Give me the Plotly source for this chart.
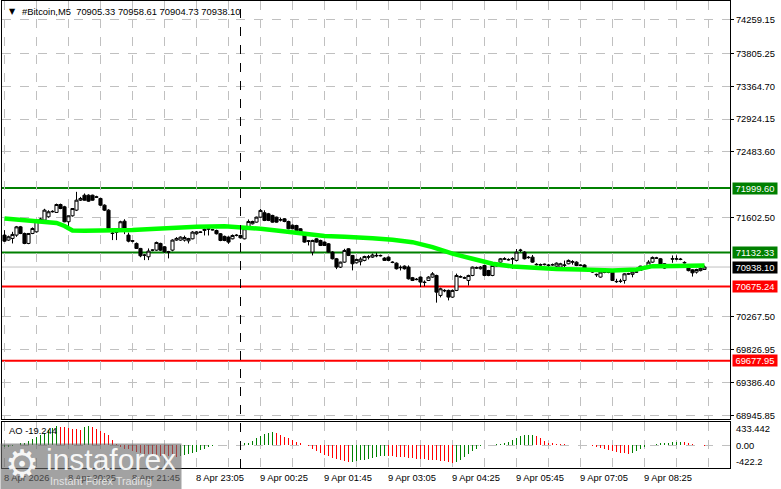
import pandas as pd
import plotly.graph_objects as go

# ---------------- data ----------------
start_time = "2026-04-08 19:05"
n_bars = 176
times = pd.date_range(start_time, periods=n_bars, freq="5min")

opens = [71367, 71300, 71322, 71367, 71478, 71389, 71255, 71389, 71411, 71568,
         71568, 71613, 71680, 71671, 71778, 71747, 71546, 71626, 71702, 71836,
         71903, 71903, 71903, 71881, 71859, 71769, 71702, 71389, 71411, 71456,
         71554, 71367, 71291, 71255, 71188, 71098, 71076, 71165, 71165, 71255,
         71210, 71143, 71165, 71300, 71300, 71300, 71290, 71317, 71385, 71405,
         71430, 71452, 71440, 71429, 71385, 71350, 71340, 71317, 71362, 71362,
         71317, 71452, 71519, 71541, 71608, 71667, 71653, 71631, 71608, 71575,
         71586, 71550, 71500, 71496, 71452, 71385, 71290, 71139, 71317, 71295,
         71273, 71250, 71139, 71049, 70937, 71004, 71183, 71094, 70995, 71010,
         71027, 71070, 71071, 71095, 71094, 71058, 71071, 71004, 70990, 70935,
         70950, 70937, 70795, 70775, 70803, 70736, 70758, 70803, 70825, 70557,
         70625, 70624, 70534, 70624, 70810, 70795, 70758, 70825, 70930, 70915,
         70959, 70892, 70825, 70960, 71004, 71050, 71040, 71045, 71027, 71160,
         71138, 71070, 71071, 70975, 70970, 70970, 70965, 70970, 70950, 70937,
         70960, 70982, 71010, 71004, 70965, 70965, 70915, 70915, 70840, 70803,
         70870, 70870, 70870, 70745, 70745, 70758, 70848, 70840, 70870, 70892,
         70940, 70937, 71004, 71060, 71049, 70982, 70960, 71050, 71045, 71045,
         71000, 70930, 70900, 70870, 70890, 70905.33]
highs = [71434, 71360, 71411, 71490, 71490, 71400, 71395, 71470, 71580, 71600,
         71720, 71700, 71700, 71790, 71790, 71760, 71630, 71730, 71948, 71880,
         71926, 71915, 71910, 71895, 71870, 71780, 71715, 71456, 71420, 71560,
         71580, 71400, 71300, 71268, 71195, 71110, 71188, 71175, 71280, 71265,
         71220, 71155, 71310, 71340, 71350, 71360, 71330, 71420, 71420, 71415,
         71460, 71460, 71450, 71440, 71395, 71360, 71350, 71375, 71380, 71375,
         71460, 71577, 71560, 71615, 71720, 71700, 71665, 71640, 71615, 71600,
         71595, 71560, 71510, 71505, 71460, 71395, 71300, 71305, 71325, 71305,
         71280, 71260, 71150, 71060, 71010, 71183, 71190, 71100, 71050, 71070,
         71090, 71100, 71120, 71130, 71105, 71070, 71080, 71015, 71000, 70960,
         70960, 70960, 70805, 70790, 70810, 70758, 70815, 70870, 70835, 70660,
         70640, 70635, 70635, 70850, 70825, 70810, 70835, 70945, 70945, 70950,
         70970, 70900, 70970, 70975, 71060, 71070, 71055, 71070, 71180, 71183,
         71150, 71085, 71100, 70990, 70985, 70985, 70980, 70985, 71000, 70995,
         71025, 71040, 71030, 71015, 70975, 70975, 70925, 70925, 70850, 70880,
         70880, 70880, 70880, 70780, 70780, 70855, 70860, 70890, 70885, 70955,
         70955, 71030, 71080, 71075, 71060, 70990, 70975, 71094, 71094, 71060,
         71015, 70945, 70910, 70915, 70935, 70958.61]
lows = [71277, 71290, 71255, 71344, 71380, 71245, 71245, 71380, 71400, 71550,
        71555, 71600, 71670, 71665, 71715, 71540, 71456, 71615, 71690, 71825,
        71830, 71815, 71830, 71865, 71760, 71690, 71445, 71300, 71300, 71445,
        71380, 71270, 71270, 71180, 71070, 71031, 71031, 71150, 71155, 71155,
        71130, 71054, 71150, 71290, 71290, 71280, 71255, 71310, 71370, 71395,
        71362, 71362, 71430, 71375, 71285, 71285, 71250, 71310, 71350, 71320,
        71310, 71445, 71510, 71535, 71600, 71555, 71555, 71535, 71535, 71550,
        71540, 71445, 71445, 71420, 71375, 71265, 71228, 71094, 71265, 71220,
        71220, 71130, 71040, 70910, 70925, 70995, 71085, 70893, 70985, 70960,
        71015, 71040, 71060, 71070, 71080, 71020, 71020, 70990, 70905, 70892,
        70905, 70770, 70750, 70760, 70669, 70680, 70750, 70795, 70460, 70530,
        70600, 70490, 70525, 70615, 70795, 70780, 70690, 70815, 70915, 70905,
        70815, 70815, 70815, 70945, 70995, 71035, 71025, 70915, 71015, 71138,
        71040, 71050, 70995, 70960, 70955, 70960, 70900, 70955, 70940, 70930,
        70890, 70975, 70970, 70950, 70950, 70905, 70900, 70860, 70805, 70795,
        70855, 70855, 70750, 70725, 70725, 70715, 70835, 70800, 70860, 70885,
        70930, 70930, 70995, 71050, 70950, 70915, 70950, 70995, 71030, 71030,
        70985, 70880, 70810, 70850, 70880, 70904.73]
closes = [71286, 71344, 71376, 71478, 71389, 71255, 71389, 71456, 71568, 71581,
          71702, 71680, 71685, 71778, 71724, 71546, 71626, 71724, 71836, 71859,
          71836, 71823, 71836, 71876, 71769, 71702, 71456, 71392, 71405, 71546,
          71456, 71286, 71286, 71188, 71089, 71098, 71152, 71165, 71268, 71165,
          71143, 71138, 71300, 71322, 71340, 71335, 71320, 71407, 71410, 71407,
          71445, 71448, 71438, 71385, 71295, 71295, 71273, 71362, 71365, 71330,
          71452, 71550, 71550, 71608, 71698, 71564, 71564, 71541, 71541, 71570,
          71550, 71452, 71452, 71429, 71385, 71273, 71285, 71295, 71273, 71228,
          71228, 71139, 71049, 70937, 71004, 71161, 71094, 70982, 71040, 71045,
          71080, 71075, 71100, 71090, 71090, 71027, 71027, 71000, 70915, 70930,
          70915, 70780, 70758, 70770, 70736, 70730, 70803, 70847, 70601, 70646,
          70620, 70534, 70624, 70825, 70805, 70790, 70825, 70937, 70925, 70937,
          70825, 70825, 70959, 70955, 71049, 71045, 71035, 71050, 71138, 71165,
          71049, 71065, 71004, 70970, 70965, 70975, 70960, 70968, 70990, 70982,
          70965, 71027, 71005, 70959, 70960, 70915, 70910, 70870, 70835, 70870,
          70866, 70865, 70758, 70742, 70748, 70847, 70845, 70870, 70872, 70950,
          70945, 71004, 71067, 71058, 70959, 70924, 70965, 71045, 71048, 71040,
          70995, 70890, 70860, 70905, 70920, 70938.10]

# moving average (read at selected bars)
ma_idx = [0, 4, 8, 13, 15, 17, 20, 26, 32, 38, 43, 48, 55, 60, 64, 68, 72, 76,
          80, 85, 88, 92, 97, 102, 107, 112, 117, 122, 127, 132, 138, 144, 152,
          158, 160, 162, 168, 175]
ma_vals = [71590, 71575, 71555, 71530, 71490, 71430, 71425, 71425, 71435, 71452,
           71470, 71480, 71485, 71470, 71452, 71430, 71400, 71373, 71355, 71345,
           71340, 71326, 71304, 71272, 71205, 71117, 71049, 70982, 70946, 70929,
           70912, 70905, 70892, 70905, 70920, 70950, 70952, 70958]

# Awesome Oscillator histogram
ao_vals = [-40, -30, -15, 10, 31, 49, 74, 105, 142, 185,
           229, 278, 315, 352, 340, 328, 309, 303, 290, 285,
           328, 352, 328, 303, 266, 229, 185, 93, 19, -31,
           -62, -80, -105, -124, -142, -155, -167, -179, -185, -192,
           -198, -201, -204, -210, -204, -185, -167, -142, -124, -93,
           -62, -31, -12, -6, 0, -2, 6, 3, 8, 12,
           31, 43, 74, 124, 173, 204, 229, 235, 216, 192,
           155, 124, 93, 62, 31, 12, -19, -62, -105, -136,
           -173, -204, -235, -260, -278, -297, -309, -303, -290, -278,
           -266, -253, -235, -216, -204, -192, -198, -204, -210, -216,
           -222, -229, -235, -247, -253, -260, -266, -272, -278, -284,
           -290, -303, -328, -309, -266, -216, -167, -111, -62, -19,
           -6, 6, 12, 19, 25, 43, 62, 93, 130, 167,
           179, 185, 192, 167, 124, 80, 49, 31, 25, 19,
           15, 12, 9, 6, 3, 0, -6, -12, -31, -49,
           -74, -93, -111, -124, -136, -148, -155, -136, -105, -68,
           -31, -6, 12, 25, 37, 43, 49, 56, 62, 65,
           56, 37, 25, 12, 0, -19.244]

# levels
support_res = [71999.60, 71132.33]
red_levels = [70675.24, 69677.95]
bid_price = 70938.10

price_ticks = [74259.15, 73805.25, 73364.70, 72924.15, 72483.60, 71602.50,
               70267.50, 69826.95, 69386.40, 68945.85]
ao_labels = [433.442, 0.0, -422.2]
ao_label_text = ["433.442", "0.00", "-422.2"]

xlabel_idx = [0, 16, 32, 48, 64, 80, 96, 112, 128, 144, 160]
xlabel_text = ["8 Apr 2026", "8 Apr 20:25", "8 Apr 21:45", "8 Apr 23:05",
               "9 Apr 00:25", "9 Apr 01:45", "9 Apr 03:05", "9 Apr 04:25",
               "9 Apr 05:45", "9 Apr 07:05", "9 Apr 08:25"]
separator_idx = 59
header = "#Bitcoin,M5\u00a0\u00a070905.33 70958.61 70904.73 70938.10"
ao_title = "AO -19.244"

# ---------------- styling ----------------
FONT = "Liberation Sans, Arial, sans-serif"
FS = 9.4
GRID = "#C0C0C0"
GREEN = "#008000"
RED = "#FF0000"
bar = pd.Timedelta(minutes=5)
x_range = [times[0] - bar * 0.625, times[0] + bar * 181.375]

fig = go.Figure()

fig.add_trace(go.Candlestick(
    x=times, open=opens, high=highs, low=lows, close=closes,
    increasing=dict(line=dict(color="black", width=1), fillcolor="white"),
    decreasing=dict(line=dict(color="black", width=1), fillcolor="black"),
    whiskerwidth=0, hoverinfo="skip", xaxis="x", yaxis="y"))

fig.add_trace(go.Scatter(
    x=[times[i] for i in ma_idx], y=ma_vals, mode="lines",
    line=dict(color="#00FF00", width=4.5), hoverinfo="skip",
    xaxis="x", yaxis="y"))

ao_colors = [GREEN] + [GREEN if ao_vals[k] >= ao_vals[k - 1] else RED
                       for k in range(1, len(ao_vals))]
fig.add_trace(go.Bar(
    x=times, y=ao_vals, marker=dict(color=ao_colors, line=dict(width=0)),
    width=[bar.total_seconds() * 1000 * 0.25] * n_bars,
    hoverinfo="skip", xaxis="x2", yaxis="y2"))

shapes = []
for lv in support_res:
    shapes.append(dict(type="line", xref="paper", x0=0, x1=1, yref="y", y0=lv, y1=lv,
                       line=dict(color=GREEN, width=2), layer="below"))
for lv in red_levels:
    shapes.append(dict(type="line", xref="paper", x0=0, x1=1, yref="y", y0=lv, y1=lv,
                       line=dict(color=RED, width=2), layer="below"))
shapes.append(dict(type="line", xref="paper", x0=0, x1=1, yref="y", y0=bid_price, y1=bid_price,
                   line=dict(color=GRID, width=1), layer="below"))
sep_t = times[separator_idx]
shapes.append(dict(type="line", xref="x", x0=sep_t, x1=sep_t, yref="paper", y0=0, y1=1,
                   line=dict(color="black", width=1, dash="dash"), layer="above"))

annotations = []
# header
annotations.append(dict(text="▼", xref="paper", yref="paper", x=0, y=1, xanchor="left",
                        yanchor="top", xshift=5, yshift=-4, showarrow=False,
                        font=dict(family="DejaVu Sans", size=8, color="black")))
annotations.append(dict(text=header, xref="paper", yref="paper", x=0, y=1, xanchor="left",
                        yanchor="middle", xshift=18, yshift=-10, showarrow=False,
                        font=dict(family=FONT, size=FS, color="black")))
annotations.append(dict(text=ao_title, xref="paper", yref="paper", x=0, y=0.0991,
                        xanchor="left", yanchor="middle", xshift=5, yshift=-9,
                        showarrow=False, font=dict(family=FONT, size=FS, color="black")))
# price boxes
def box(val, bg):
    return dict(text=f"{val:.2f}", xref="paper", yref="y", x=1, y=val, xanchor="left",
                yanchor="middle", xshift=2, showarrow=False, bgcolor=bg,
                width=44, height=11, borderpad=0, align="center",
                font=dict(family=FONT, size=FS, color="white"))
for lv in support_res:
    annotations.append(box(lv, GREEN))
annotations.append(box(bid_price, "black"))
for lv in red_levels:
    annotations.append(box(lv, RED))
# AO labels
for v, t in zip(ao_labels, ao_label_text):
    annotations.append(dict(text=t, xref="paper", yref="y2", x=1, y=v, xanchor="left",
                            yanchor="middle", xshift=4,
                            yshift=-6.5 if v > 0 else (6.5 if v < 0 else 0),
                            showarrow=False, font=dict(family=FONT, size=FS, color="black")))
# x labels
for i, t in zip(xlabel_idx, xlabel_text):
    annotations.append(dict(text=t, xref="x", yref="paper", x=times[i], y=0,
                            xanchor="left", yanchor="middle", xshift=-2.5, yshift=-9.5,
                            showarrow=False, font=dict(family=FONT, size=FS, color="black")))
# watermark
px2x = lambda px: (px - 2) / 728.0
py2y = lambda py: (468 - py) / 467.0
annotations.append(dict(text=" ", xref="paper", yref="paper", x=px2x(0), y=py2y(443),
                        xanchor="left", yanchor="top", width=180, height=46, borderpad=0,
                        bgcolor="rgba(105,105,105,0.62)", showarrow=False))
annotations.append(dict(text="⚙", xref="paper", yref="paper", x=px2x(3), y=py2y(464),
                        xanchor="left", yanchor="middle", showarrow=False,
                        font=dict(family="DejaVu Sans", size=38, color="rgba(255,255,255,0.92)")))
annotations.append(dict(text="instaforex", xref="paper", yref="paper", x=px2x(44), y=py2y(459),
                        xanchor="left", yanchor="middle", showarrow=False,
                        font=dict(family=FONT, size=30, color="rgba(255,255,255,0.92)")))
annotations.append(dict(text="Instant Forex Trading", xref="paper", yref="paper", x=px2x(48),
                        y=py2y(481), xanchor="left", yanchor="middle", showarrow=False,
                        font=dict(family=FONT, size=10.8, color="rgba(235,235,235,0.9)")))

axis_common = dict(showline=True, mirror=True, linecolor="black", linewidth=1,
                   zeroline=False, showgrid=True, gridcolor=GRID, griddash="dash",
                   gridwidth=1)

fig.update_layout(
    width=781, height=489,
    margin=dict(l=2, r=51, t=1, b=21),
    paper_bgcolor="white", plot_bgcolor="white",
    showlegend=False, bargap=0, boxgap=0.12, boxgroupgap=0.12,
    xaxis=dict(domain=[0, 1], range=x_range, type="date", anchor="y",
               tick0=times[0], dtick=40 * 60 * 1000, showticklabels=False, ticks="",
               rangeslider=dict(visible=False), **axis_common),
    xaxis2=dict(domain=[0, 1], range=x_range, type="date", anchor="y2", matches="x",
                tick0=times[0], dtick=40 * 60 * 1000, showticklabels=False, ticks="",
                **axis_common),
    yaxis=dict(domain=[0.1049, 1], range=[68897, 74511], side="right", anchor="x",
               tickvals=price_ticks, ticktext=[f"{v:.2f}" for v in price_ticks],
               ticks="outside", ticklen=3, tickcolor="black",
               tickfont=dict(family=FONT, size=FS, color="black"), **axis_common),
    yaxis2=dict(domain=[0, 0.0991], range=[-422.2, 433.442], side="right", anchor="x2",
                tickvals=[0], showticklabels=False, ticks="", **axis_common),
    shapes=shapes, annotations=annotations,
)

fig.write_html("out.html", config={"displayModeBar": False, "staticPlot": True},
               post_script="document.body.style.margin='0';document.body.style.overflow='hidden';")
